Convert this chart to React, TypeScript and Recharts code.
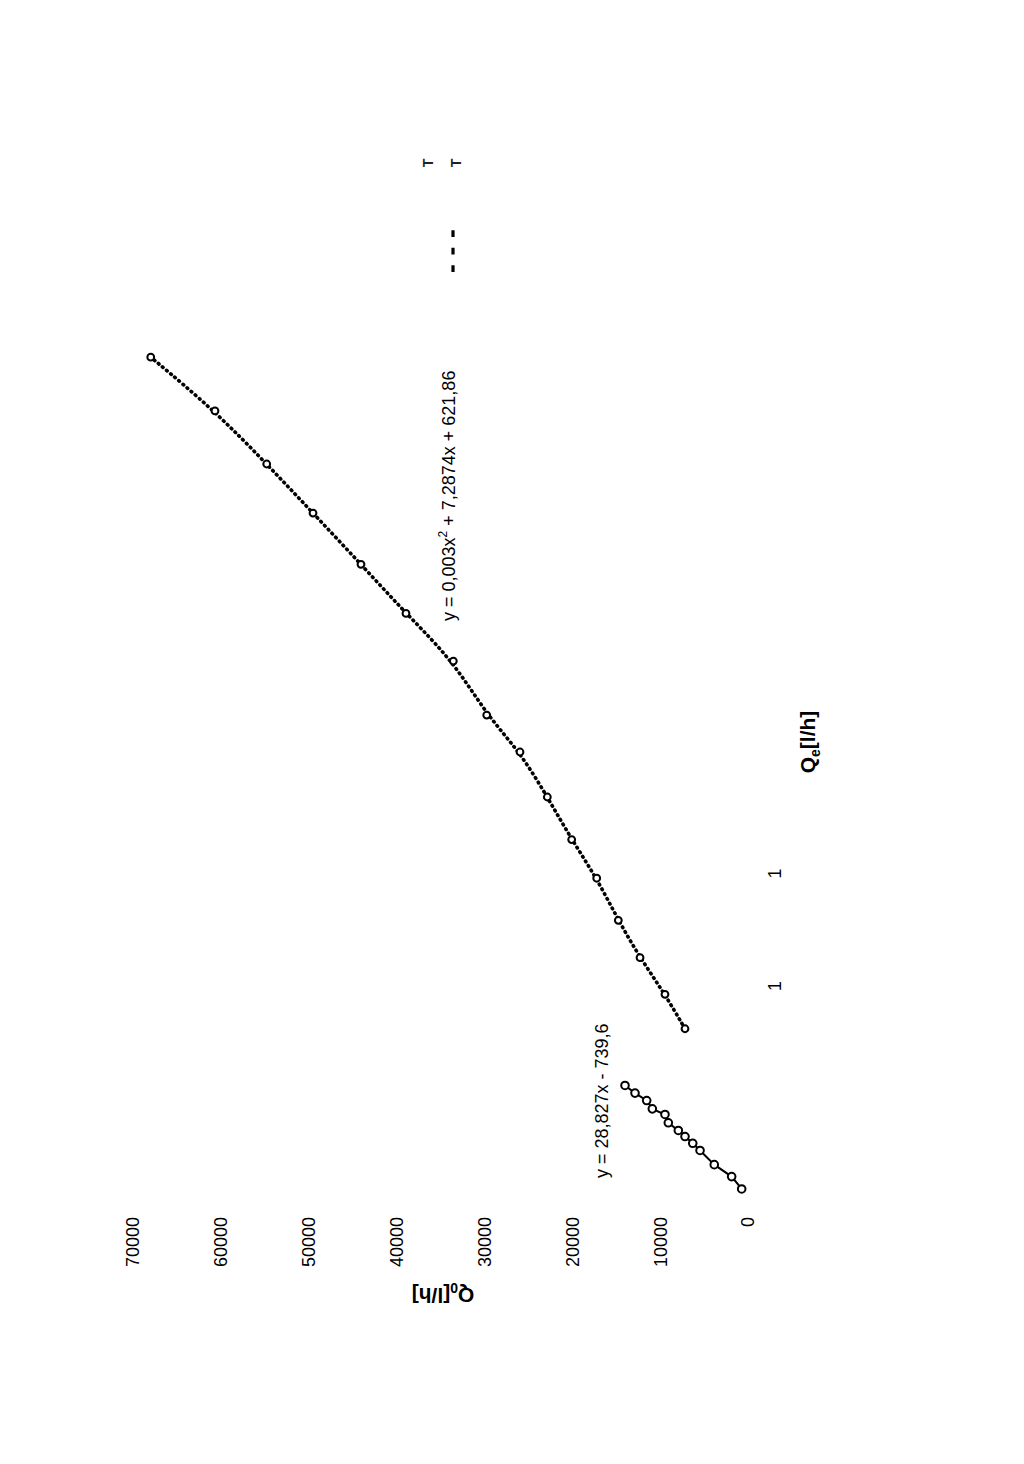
import { ComposedChart, Line, XAxis, YAxis } from "recharts";

// Qe [l/h] vs Q0 [l/h], lower range (linear fit)
const linQe = [98, 153, 206, 269, 301, 331, 358, 392, 429, 454, 491, 524, 558];
const linQ0 = [720, 1860, 3840, 5460, 6290, 7170, 7930, 9070, 9450, 10890, 11530, 12860, 14000];

// upper range (quadratic fit)
const polyQe = [810, 963, 1126, 1292, 1479, 1651, 1840, 2040, 2204, 2444, 2656, 2874, 3102, 3320, 3556, 3795];
const polyQ0 = [7170, 9450, 12290, 14760, 17220, 20070, 22840, 25950, 29740, 33540, 38930, 44050, 49510, 54780, 60670, 67980];

const q0Ticks = [0, 10000, 20000, 30000, 40000, 50000, 60000, 70000];
const qeTicks = [1000, 1500];
const qeTickLabels = ["1", "1"]; // only the first digit survives in the scan

const eqLinear = "y = 28,827x - 739,6";
const eqPoly = ["y = 0,003x", "2", " + 7,2874x + 621,86"];

const linData = linQe.map((x, i) => ({ x, q0: linQ0[i] }));
const polyData = polyQe.map((x, i) => ({ x, q0: polyQ0[i] }));

// the chart is drawn upright and then turned a quarter turn to the left
const W = 1464;
const H = 1024;
const FONT = '"Liberation Sans", Arial, sans-serif';
const INK = "#000";

const ring = (r: number) => (p: any) => (
  <circle key={`c${p.index}`} cx={p.cx} cy={p.cy} r={r} fill="#fff" stroke={INK} strokeWidth={2} />
);

export default function App() {
  return (
    <div style={{ position: "absolute", left: 0, top: 0, width: 1024, height: 1464, overflow: "hidden", background: "#fff" }}>
      <div
        style={{
          position: "absolute",
          left: 0,
          top: 0,
          width: W,
          height: H,
          transformOrigin: "0 0",
          transform: `translate(0px, ${W}px) rotate(-90deg)`,
        }}
      >
        <ComposedChart
          width={W}
          height={H}
          margin={{ top: 133, right: 311, bottom: 216, left: 173 }}
          style={{ fontFamily: FONT }}
        >
          <XAxis
            type="number"
            dataKey="x"
            domain={[0, 4000]}
            ticks={qeTicks}
            tickFormatter={(v: number) => qeTickLabels[qeTicks.indexOf(v)] ?? ""}
            axisLine={false}
            tickLine={false}
            tickSize={0}
            tickMargin={20}
            height={60}
            tick={{ fontSize: 18, fill: INK, fontFamily: FONT }}
          />
          <YAxis
            type="number"
            domain={[0, 70000]}
            ticks={q0Ticks}
            axisLine={false}
            tickLine={false}
            tickSize={0}
            tickMargin={6}
            width={80}
            tick={{ fontSize: 18, fill: INK, fontFamily: FONT }}
          />
          <Line
            data={linData}
            dataKey="q0"
            type="linear"
            stroke={INK}
            strokeWidth={2}
            dot={ring(3.8)}
            activeDot={false}
            isAnimationActive={false}
          />
          <Line
            data={polyData}
            dataKey="q0"
            type="basis"
            stroke={INK}
            strokeWidth={3.6}
            strokeDasharray="0.8 4.6"
            strokeLinecap="round"
            dot={ring(3.4)}
            activeDot={false}
            isAnimationActive={false}
          />
        </ComposedChart>

        {/* titles, trendline equations and the faded legend remains */}
        <svg width={W} height={H} style={{ position: "absolute", left: 0, top: 0, pointerEvents: "none" }} fontFamily={FONT}>
          <text x={176} y={443} transform="rotate(-90 176 443)" textAnchor="middle" fontSize={21} fontWeight="bold" fill={INK}>
            Q<tspan fontSize={14} dy={5}>0</tspan>
            <tspan dy={-5}>[l/h]</tspan>
          </text>
          <text x={722} y={815} textAnchor="middle" fontSize={21} fontWeight="bold" fill={INK}>
            Q<tspan fontSize={14} dy={5}>e</tspan>
            <tspan dy={-5}>[l/h]</tspan>
          </text>
          <text x={843} y={455} fontSize={18} fill={INK}>
            {eqPoly[0]}
            <tspan fontSize={12} dy={-8}>{eqPoly[1]}</tspan>
            <tspan dy={8}>{eqPoly[2]}</tspan>
          </text>
          <text x={286} y={608} fontSize={18} fill={INK}>
            {eqLinear}
          </text>
          <text x={1301} y={433} textAnchor="middle" fontSize={14} fontWeight="bold" fill="#222">T</text>
          <text x={1301} y={461} textAnchor="middle" fontSize={14} fontWeight="bold" fill="#222">T</text>
          <line x1={1192} x2={1234} y1={453} y2={453} stroke={INK} strokeWidth={3.2} strokeDasharray="6.7 10.8" />
        </svg>
      </div>
    </div>
  );
}
